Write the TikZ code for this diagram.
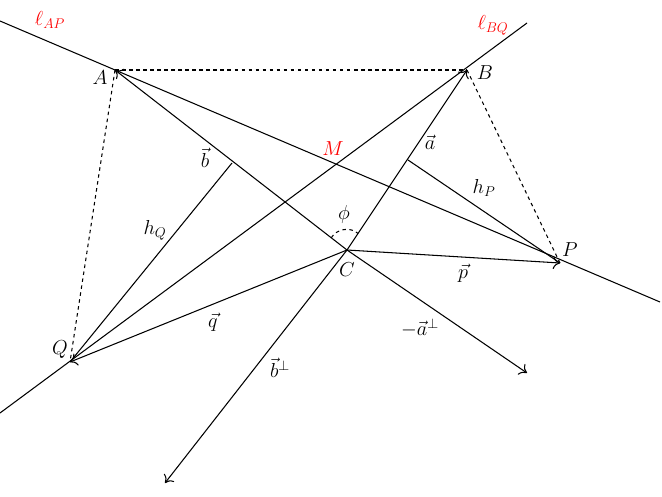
\documentclass[tikz,border=0pt]{standalone}
\usetikzlibrary{calc,arrows.meta}
\begin{document}
\begin{tikzpicture}[x=0.03cm,y=-0.03cm,line width=0.9pt,>={To[length=6pt,width=11pt]},
  vec/.style={->},lab/.style={font=\LARGE},red lab/.style={text=red,font=\LARGE}]
\useasboundingbox (0,0) rectangle (662,497);
\coordinate (A) at (115,70);
\coordinate (B) at (467,70);
\coordinate (C) at (347,250);
\coordinate (P) at (560,263);
\coordinate (Q) at (70,362);
\coordinate (L1) at (0,21);
\coordinate (L2) at (660,302);
\coordinate (K1) at (527,23);
\coordinate (K2) at (0,413);
\coordinate (Ap) at (527,373);
\coordinate (Bp) at (165,483);
\coordinate (HP) at (408,160);
\coordinate (HQ) at (232,163);
\draw (L1) -- (L2);
\draw (K1) -- (K2);
\draw[dashed] (A) -- (B);
\draw[dashed] (A) -- (Q);
\draw[dashed] (B) -- (P);
\draw[vec] (C) -- (A);
\draw[vec] (C) -- (B);
\draw[vec] (C) -- (P);
\draw[vec] (C) -- (Q);
\draw[vec] (C) -- (Ap);
\draw[vec] (C) -- (Bp);
\draw (HP) -- (P);
\draw (HQ) -- (Q);
\draw[dashed] ($(C)!17pt!(A)$) to[bend left=50] ($(C)!17pt!(B)$);
\node[red lab] at (50,20) {$\ell_{AP}$};
\node[red lab] at (493,25) {$\ell_{BQ}$};
\node[red lab] at (333,149) {$M$};
\node[lab] at (100,78) {$A$};
\node[lab] at (485,73) {$B$};
\node[lab] at (570,250) {$P$};
\node[lab] at (60,350) {$Q$};
\node[lab] at (347,270) {$C$};
\node[lab] at (430,142) {$\vec a$};
\node[lab] at (205,158) {$\vec b$};
\node[lab] at (484,188) {$h_P$};
\node[lab] at (155,230) {$h_Q$};
\node[lab] at (463,273) {$\vec p$};
\node[lab] at (213,322) {$\vec q$};
\node[lab] at (420,328) {$-\vec a^{\perp}$};
\node[lab] at (280,368) {$\vec b^{\perp}$};
\node[lab] at (344,214) {$\phi$};
\end{tikzpicture}
\end{document}
